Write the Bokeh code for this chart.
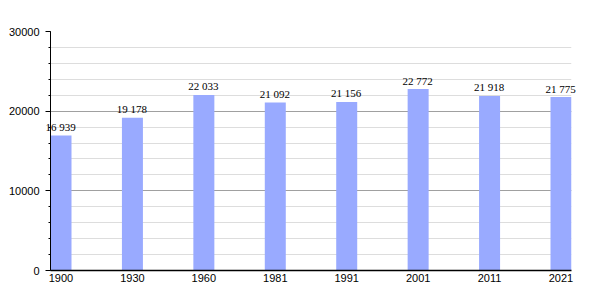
from bokeh.plotting import figure
from bokeh.models import ColumnDataSource, FixedTicker, SingleIntervalTicker, Range1d, HTMLLabelSet
from bokeh.embed import file_html
from bokeh.resources import INLINE

years = ["1900", "1930", "1960", "1981", "1991", "2001", "2011", "2021"]
population = [16939, 19178, 22033, 21092, 21156, 22772, 21918, 21775]

xs = list(range(len(years)))
labels = [f"{v:,}".replace(",", " ") for v in population]
src = ColumnDataSource(dict(x=xs, top=population, label=labels))

bw = 0.294
p = figure(width=600, height=300, output_backend="svg", toolbar_location=None,
           x_range=Range1d(-bw / 2, len(years) - 1 + bw / 2),
           y_range=Range1d(0, 30000),
           min_border_left=50, min_border_right=29, min_border_top=31, min_border_bottom=30)
p.outline_line_color = None
p.background_fill_color = "white"

p.vbar(x="x", top="top", width=bw, source=src, fill_color="#99aaff", line_color=None)
p.add_layout(HTMLLabelSet(x="x", y="top", text="label", source=src, text_align="center",
                          text_baseline="bottom", y_offset=2,
                          text_font="'Liberation Sans', Arial, sans-serif",
                          text_font_size="11px", text_color="black"))

p.xgrid.grid_line_color = None
p.ygrid.ticker = SingleIntervalTicker(interval=10000, num_minor_ticks=5)
p.ygrid.grid_line_color = "#a0a0a0"
p.ygrid.minor_grid_line_color = "#dddddd"
p.ygrid.level = "underlay"

ya = p.yaxis[0]
ya.ticker = SingleIntervalTicker(interval=10000, num_minor_ticks=5)
ya.axis_line_color = "black"
ya.major_tick_out = 5
ya.major_tick_in = 0
ya.minor_tick_out = 2
ya.minor_tick_in = 0
ya.major_label_standoff = 6
ya.major_label_text_font = "Liberation Sans"
ya.major_label_text_font_size = "11px"
ya.major_label_text_color = "black"
ya.formatter.use_scientific = False

xa = p.xaxis[0]
xa.ticker = FixedTicker(ticks=xs)
xa.major_label_overrides = {i: y for i, y in enumerate(years)}
xa.major_tick_out = 0
xa.major_tick_in = 0
xa.minor_tick_out = 0
xa.axis_line_color = "black"
xa.axis_line_width = 1.5
xa.major_label_standoff = 3
xa.major_label_text_font = "Liberation Sans"
xa.major_label_text_font_size = "11px"
xa.major_label_text_color = "black"

open("out.html", "w").write(file_html(p, INLINE))
